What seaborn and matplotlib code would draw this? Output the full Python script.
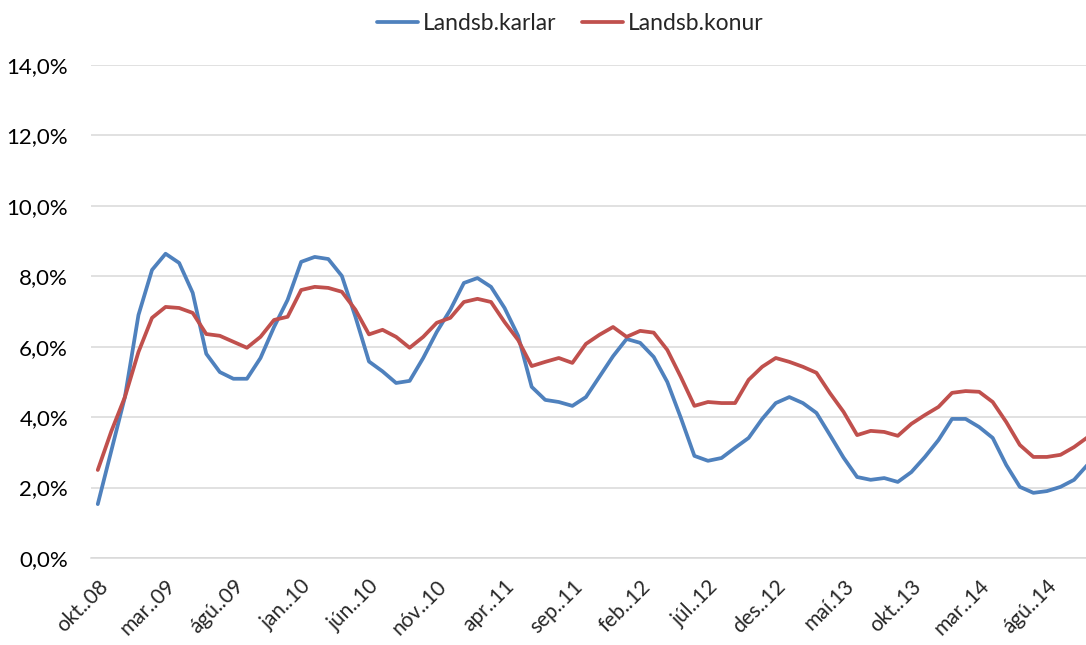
import numpy as np
import pandas as pd
import seaborn as sns
import matplotlib.pyplot as plt
from matplotlib.ticker import FuncFormatter, FixedLocator

# ─────────────────────────────────────────────────────────────
# Data (monthly, okt.08 – nóv.14), values in %
# ─────────────────────────────────────────────────────────────

karlar = [
    1.53, 3.05, 4.57, 6.90, 8.18, 8.64, 8.38, 7.53, 5.80, 5.28,
    5.09, 5.09, 5.68, 6.56, 7.33, 8.41, 8.55, 8.49, 8.01, 6.85,
    5.58, 5.30, 4.97, 5.03, 5.68, 6.42, 7.05, 7.81, 7.95, 7.70,
    7.10, 6.31, 4.86, 4.49, 4.43, 4.32, 4.57, 5.15, 5.73, 6.22,
    6.11, 5.71, 5.00, 3.98, 2.90, 2.76, 2.84, 3.13, 3.41, 3.95,
    4.40, 4.57, 4.40, 4.12, 3.49, 2.85, 2.30, 2.22, 2.27, 2.16,
    2.44, 2.87, 3.35, 3.95, 3.95, 3.72, 3.41, 2.64, 2.02, 1.85,
    1.90, 2.02, 2.22, 2.65,
]

konur = [
    2.50, 3.60, 4.57, 5.85, 6.82, 7.13, 7.10, 6.96, 6.36, 6.31,
    6.14, 5.97, 6.28, 6.76, 6.85, 7.61, 7.70, 7.67, 7.56, 7.05,
    6.35, 6.48, 6.28, 5.97, 6.28, 6.68, 6.82, 7.27, 7.36, 7.27,
    6.70, 6.19, 5.45, 5.57, 5.68, 5.54, 6.08, 6.34, 6.56, 6.28,
    6.45, 6.40, 5.91, 5.14, 4.32, 4.43, 4.40, 4.40, 5.06, 5.43,
    5.68, 5.57, 5.43, 5.26, 4.68, 4.15, 3.49, 3.61, 3.58, 3.47,
    3.81, 4.06, 4.29, 4.69, 4.74, 4.72, 4.43, 3.86, 3.21, 2.87,
    2.87, 2.93, 3.15, 3.43,
]

tick_labels = [
    "okt..08", "mar..09", "ágú..09", "jan..10", "jún..10", "nóv..10",
    "apr..11", "sep..11", "feb..12", "júl..12", "des..12", "maí.13",
    "okt..13", "mar..14", "ágú..14",
]

series_names = ["Landsb.karlar", "Landsb.konur"]
colors = {"Landsb.karlar": "#4F81BD", "Landsb.konur": "#C0504D"}

# ─────────────────────────────────────────────────────────────
# Long format
# ─────────────────────────────────────────────────────────────

df = pd.DataFrame({
    "t": np.arange(len(karlar)),
    series_names[0]: karlar,
    series_names[1]: konur,
})
df_long = df.melt(id_vars="t", var_name="Hópur", value_name="Hlutfall")

# ─────────────────────────────────────────────────────────────
# Plot
# ─────────────────────────────────────────────────────────────

sns.set_style("white")
plt.rcParams["font.family"] = ["Lato", "DejaVu Sans"]

fig = plt.figure(figsize=(10.86, 6.45), dpi=100)
ax = fig.add_axes([91 / 1086, 1 - 558 / 645, 1 - 91 / 1086, (558 - 65) / 645])

sns.lineplot(
    data=df_long, x="t", y="Hlutfall", hue="Hópur",
    palette=colors, linewidth=2.7, ax=ax, legend=False,
)

ax.set_xlim(-0.5, 72.88)
ax.set_ylim(0, 14)

# y-axis
ax.yaxis.set_major_locator(FixedLocator(np.arange(0, 14.1, 2)))
ax.yaxis.set_major_formatter(FuncFormatter(lambda v, p: f"{v:.1f}%".replace(".", ",")))
ax.grid(axis="y", color="#D9D9D9", linewidth=1.1)
ax.tick_params(axis="y", length=0, pad=16.5, labelsize=16, labelcolor="#000000")

# x-axis: labels at category centres, tick marks between categories
label_pos = np.arange(0, 5 * len(tick_labels), 5)
ax.set_xticks(label_pos)
ax.set_xticklabels(tick_labels, rotation=45, ha="right", rotation_mode="anchor")
ax.set_xticks(np.arange(-0.5, 73, 5), minor=True)
ax.tick_params(axis="x", which="major", length=0, pad=13, labelsize=15)
ax.tick_params(axis="x", which="minor", length=6, color="#D9D9D9", width=1.1)

for s in ["left", "right", "top"]:
    ax.spines[s].set_visible(False)
ax.spines["bottom"].set_color("#D9D9D9")
ax.spines["bottom"].set_linewidth(1.1)

ax.set_xlabel("")
ax.set_ylabel("")

# legend
handles = [plt.Line2D([], [], color=colors[n], linewidth=2.7) for n in series_names]
fig.legend(
    handles, series_names, loc="upper center", ncol=2, frameon=False,
    bbox_to_anchor=(0.525, 1.012), fontsize=16.5, handlelength=1.8,
    handletextpad=0.2, columnspacing=1.1,
)

fig.savefig("out.png", dpi=100)
